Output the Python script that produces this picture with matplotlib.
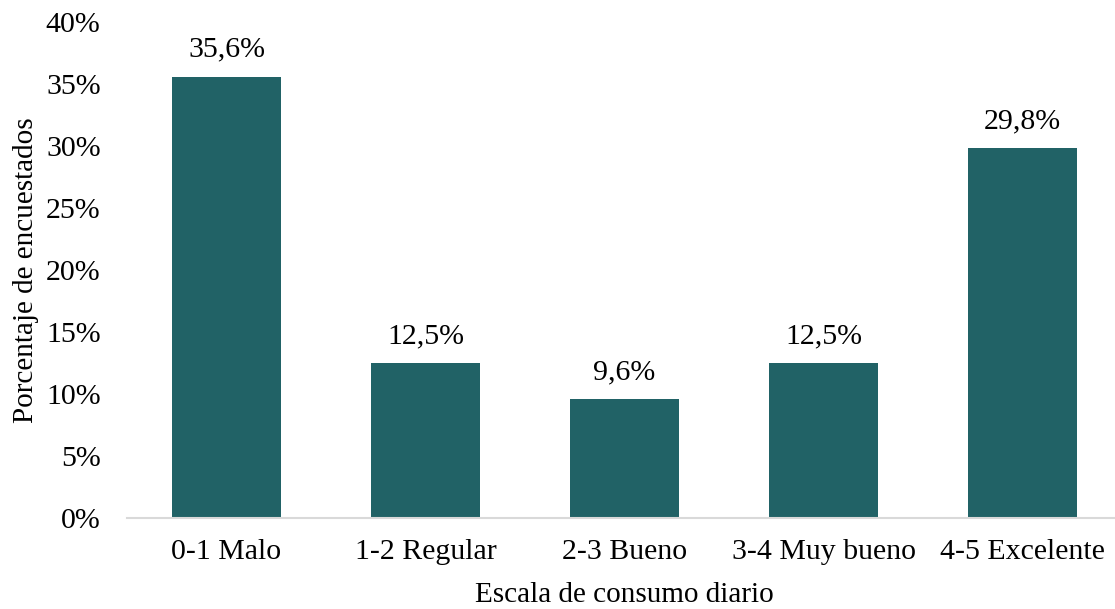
import matplotlib
matplotlib.use("Agg")
import matplotlib.pyplot as plt

categories = ["0-1 Malo", "1-2 Regular", "2-3 Bueno", "3-4 Muy bueno", "4-5 Excelente"]
values = [35.6, 12.5, 9.6, 12.5, 29.8]
value_labels = ["35,6%", "12,5%", "9,6%", "12,5%", "29,8%"]
yticks = [0, 5, 10, 15, 20, 25, 30, 35, 40]
ytick_labels = ["0%", "5%", "10%", "15%", "20%", "25%", "30%", "35%", "40%"]

plt.rcParams['font.family'] = ['Liberation Serif', 'DejaVu Serif']
FS = 21.5

fig = plt.figure(figsize=(11.15, 6.09), dpi=100)
ax = fig.add_axes([127/1115, 91/609, 995/1115, 496/609])
x = list(range(len(categories)))
ax.bar(x, values, width=0.55, color="#216266", zorder=2)
for xi, v, lab in zip(x, values, value_labels):
    ax.annotate(lab, (xi, v), xytext=(0, 10), textcoords="offset points",
                ha="center", va="bottom", fontsize=FS)
ax.set_xlim(-0.5, 4.5)
ax.set_ylim(0, 40)
ax.set_yticks(yticks)
ax.set_yticklabels(ytick_labels, fontsize=FS)
ax.set_xticks(x)
ax.set_xticklabels(categories, fontsize=FS)
ax.tick_params(axis="both", length=0)
ax.tick_params(axis="x", pad=15)
ax.tick_params(axis="y", pad=19)
for s in ["top", "right", "left"]:
    ax.spines[s].set_visible(False)
ax.spines["bottom"].set_color("#d9d9d9")
ax.spines["bottom"].set_linewidth(1.5)
ax.set_xlabel("Escala de consumo diario", fontsize=21, labelpad=12)
ax.set_ylabel("Porcentaje de encuestados", fontsize=21, labelpad=5)
fig.savefig("out.png", dpi=100)
